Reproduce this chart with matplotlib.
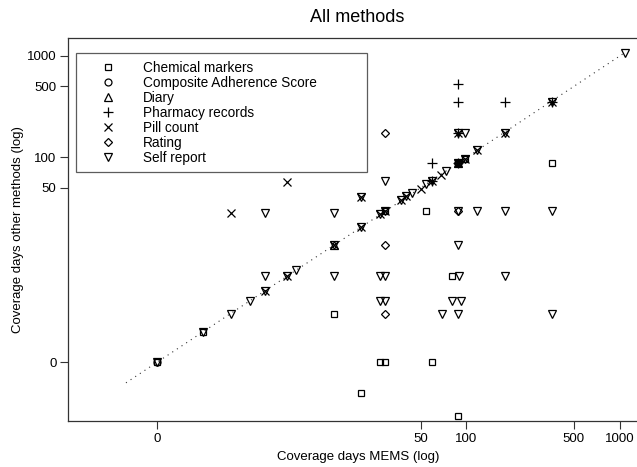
import numpy as np
import matplotlib
matplotlib.use('Agg')
import matplotlib.pyplot as plt
from matplotlib.lines import Line2D

plt.rcParams['font.family'] = ['Liberation Sans', 'DejaVu Sans']

# coverage days, MEMS (x) against the other method (y)
chem_x = [0, 1, 13, 27, 29, 59, 20, 88, 81, 54, 360, 29, 88, 98]
chem_y = [0, 1, 2, 0, 0, 0, -0.5, -0.7, 6, 29, 88, 29, 88, 97]

comp_x = [0, 88]
comp_y = [0, 88]

diary_x = [13, 88]
diary_y = [13, 88]

pharm_x = [59, 88, 88, 88, 88, 178, 360, 59]
pharm_y = [58, 88, 175, 524, 349, 349, 349, 88]

pill_x = [4, 6, 13, 20, 20, 27, 29, 37, 40, 50, 59, 68, 88, 98, 118, 88, 178, 360, 6, 2]
pill_y = [4, 6, 13, 20, 40, 27, 29, 38, 41, 49, 58, 67, 88, 97, 118, 175, 175, 349, 57, 28]

rating_x = [29, 29, 29, 88, 88]
rating_y = [175, 13, 2, 29, 88]

self_x = [0, 1, 2, 3, 4, 6, 7, 13, 20, 20, 27, 29, 37, 40, 44, 54, 59, 73, 88, 98,
          118, 88, 98, 178, 360, 1078, 4, 13, 4, 13, 27, 29, 27, 29, 69, 88, 360,
          80, 92, 89, 178, 88, 118, 178, 360, 88, 29]
self_y = [0, 1, 2, 3, 4, 6, 7, 13, 20, 40, 27, 29, 38, 41, 44, 55, 58, 74, 88, 97,
          118, 175, 175, 175, 349, 1068, 28, 28, 6, 6, 6, 6, 3, 3, 2, 2, 2,
          3, 3, 6, 6, 13, 29, 29, 29, 29, 58]

x_ticks = [0, 50, 100, 500, 1000]
y_ticks = [0, 50, 100, 500, 1000]


def fwd(v):
    v = np.asarray(v, dtype=float)
    with np.errstate(invalid='ignore', divide='ignore'):
        return np.log10(v + 1)


def inv(v):
    return 10 ** np.asarray(v, dtype=float) - 1


methods = [
    ('Chemical markers', 's', 5.0, chem_x, chem_y),
    ('Composite Adherence Score', 'o', 5.0, comp_x, comp_y),
    ('Diary', '^', 5.5, diary_x, diary_y),
    ('Pharmacy records', '+', 7.0, pharm_x, pharm_y),
    ('Pill count', 'x', 6.0, pill_x, pill_y),
    ('Rating', 'D', 3.8, rating_x, rating_y),
    ('Self report', 'v', 5.5, self_x, self_y),
]

fig = plt.figure(figsize=(6.37, 4.67), dpi=100)
ax = fig.add_axes([68.3 / 637, 46 / 467, (638 - 68.3) / 637, (421 - 38.3) / 467])

ax.set_xscale('function', functions=(fwd, inv))
ax.set_yscale('function', functions=(fwd, inv))

# y = x reference
ax.plot([-0.37, 1075], [-0.37, 1075], color='#333333', lw=0.8,
        linestyle=(0, (1, 4)), zorder=1)

handles = []
for name, mk, ms, xs, ys in methods:
    ax.plot(xs, ys, linestyle='none', marker=mk, markersize=ms,
            markerfacecolor='none', markeredgecolor='black',
            markeredgewidth=0.9, zorder=3)
    handles.append(Line2D([], [], linestyle='none', marker=mk, markersize=ms,
                          markerfacecolor='none', markeredgecolor='black',
                          markeredgewidth=0.9, label=name))

ax.set_xlim(10 ** -0.574 - 1, 10 ** ((638 - 157) / 154.4) - 1)
ax.set_ylim(10 ** -0.574 - 1, 10 ** ((362.3 - 38.3) / 102.2) - 1)

ax.set_xticks(x_ticks)
ax.set_xticklabels([str(t) for t in x_ticks])
ax.set_yticks(y_ticks)
ax.set_yticklabels([str(t) for t in y_ticks])
ax.minorticks_off()
ax.tick_params(direction='out', length=5.5, width=0.8, color='#333333',
               labelsize=9.5, pad=3)
for sp in ax.spines.values():
    sp.set_color('#333333')
    sp.set_linewidth(0.9)

fig.text(357 / 637, 1 - 18 / 467, 'All methods', ha='center', va='center',
         fontsize=13)
fig.text(358 / 637, 1 - 457 / 467, 'Coverage days MEMS (log)', ha='center',
         va='center', fontsize=9.5)
fig.text(18 / 637, 1 - 230 / 467, 'Coverage days other methods (log)',
         ha='center', va='center', rotation=90, fontsize=9.5)

ax_w = 638 - 68.3
ax_h = 421 - 38.3
x0 = (76 - 68.3) / ax_w
y1 = (421 - 53.3) / ax_h
y0 = (421 - 172) / ax_h
w = (367.3 - 76) / ax_w
leg = ax.legend(handles=handles, loc='upper left',
                bbox_to_anchor=(x0, y0, w, y1 - y0), mode='expand',
                borderaxespad=0, fontsize=9.8, frameon=True, fancybox=False,
                handlelength=3.6, handletextpad=0.75, labelspacing=0.07,
                borderpad=0.55)
leg.get_frame().set_edgecolor('#333333')
leg.get_frame().set_linewidth(0.9)

fig.savefig('out.png', dpi=100)
